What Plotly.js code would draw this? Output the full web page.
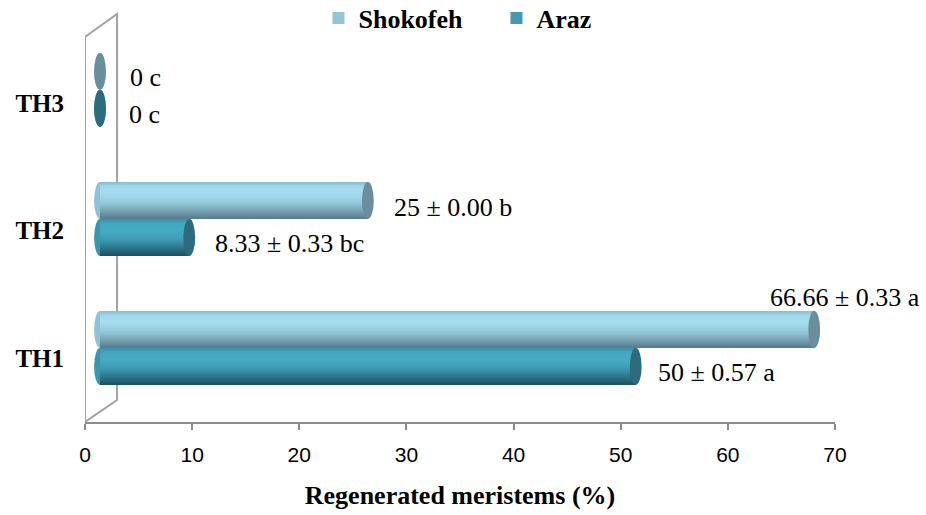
<!DOCTYPE html>
<html>
<head>
<meta charset="utf-8">
<script src="https://cdn.plot.ly/plotly-3.0.1.min.js"></script>
<style>html,body{margin:0;padding:0;background:#fff;}#chart{width:926px;height:515px;}</style>
</head>
<body>
<div id="chart"></div>
<script>
// ---- data ----
const categories = ['TH1', 'TH2', 'TH3'];
const seriesNames = ['Shokofeh', 'Araz'];
const shokofeh = [66.66, 25, 0];
const araz = [50, 8.33, 0];
const shokofehLabels = ['66.66 \u00b1 0.33 a', '25 \u00b1 0.00 b', '0 c'];
const arazLabels = ['50 \u00b1 0.57 a', '8.33 \u00b1 0.33 bc', '0 c'];
const xTicks = [0, 10, 20, 30, 40, 50, 60, 70];

// ---- styling ----
const serif = 'Liberation Serif, Times New Roman, serif';
const legendColors = ['#93c5d6', '#4399b0'];
const capColors = ['#6b8e9c', '#2b6b7c'];
const baseColors = ['#8ec2d4', '#3897af'];
const gradStops = [
  [[0, '#86b9cb'], [0.12, '#a3d8ea'], [0.3, '#a6ddf0'], [0.55, '#95cadd'], [0.8, '#769fae'], [1, '#55798a']],
  [[0, '#3a90a6'], [0.12, '#45a6bf'], [0.3, '#47abc5'], [0.55, '#3d9bb3'], [0.8, '#2b7387'], [1, '#1b5060']]
];
// label offsets in pixels [xshift, yshift]
const labelShift = [
  [[-46, 32], [24, -7], [28, -6]],
  [[20, -6], [24, -6], [27, -6]]
];
const BW = 0.2868;      // bar thickness in category units
const N = 24;           // shading stripes
const CAPW = 0.55;      // half-width of end ellipse in x units

function hex2rgb(h){return [1,3,5].map(i=>parseInt(h.substr(i,2),16));}
function grad(stops, t){
  for (let k=0;k<stops.length-1;k++){
    const [t0,c0]=stops[k],[t1,c1]=stops[k+1];
    if (t<=t1){
      const f=(t-t0)/(t1-t0), a=hex2rgb(c0), b=hex2rgb(c1);
      return 'rgb('+a.map((v,i)=>Math.round(v+(b[i]-v)*f)).join(',')+')';
    }
  }
  return stops[stops.length-1][1];
}

const allValues = [shokofeh, araz];
const allLabels = [shokofehLabels, arazLabels];
const idx = categories.map((c,i)=>i);

const traces = [];
// legend entries
seriesNames.forEach((name, s) => {
  traces.push({type:'bar', orientation:'h', name:name, x:[null], y:[null],
    marker:{color:legendColors[s]}, xaxis:'x', yaxis:'y', hoverinfo:'skip'});
});
// shaded cylinders: each stripe covers from its top edge down to the bar bottom,
// drawn top-first so later stripes paint over the lower part (no seams)
allValues.forEach((vals, s) => {
  const top = s===0 ? BW : 0;
  const bottom = top - BW;
  for (let i=0;i<N;i++){
    const t=(i+0.5)/N;
    const stripeTop = top - i*BW/N;
    traces.push({type:'bar', orientation:'h', x:vals, y:idx, xaxis:'x2', yaxis:'y2',
      width:stripeTop - bottom, offset: bottom,
      marker:{color:grad(gradStops[s], t), line:{width:0}},
      showlegend:false, hoverinfo:'skip'});
  }
});

const shapes = [];
// side wall
shapes.push({type:'path', xref:'x', yref:'paper', layer:'below',
  path:'M 0,0.9436 L 2.99,1 L 2.99,0.0539 L 0,0 Z',
  line:{color:'#a3a3a3', width:2}, fillcolor:'rgba(255,255,255,0)'});
const annotations = [];
allValues.forEach((vals, s) => {
  vals.forEach((v, i) => {
    const yc = s===0 ? i + BW/2 : i - BW/2;
    // rounded base
    shapes.push({type:'circle', xref:'x2', yref:'y2', layer:'below',
      x0:-CAPW, x1:CAPW, y0:yc-BW/2, y1:yc+BW/2,
      fillcolor:baseColors[s], line:{width:0}});
    // end cap
    shapes.push({type:'circle', xref:'x2', yref:'y2', layer:'above',
      x0:v-CAPW, x1:v+CAPW, y0:yc-BW/2, y1:yc+BW/2,
      fillcolor:capColors[s], line:{width:0}});
    annotations.push({xref:'x2', yref:'y2', x:v, y:yc, text:allLabels[s][i],
      showarrow:false, xanchor:'left', yanchor:'middle',
      xshift:labelShift[s][i][0], yshift:labelShift[s][i][1],
      font:{family:serif, size:26, color:'#000'}});
  });
});

const layout = {
  width:926, height:515,
  margin:{l:85, r:91, t:14, b:93, pad:0, autoexpand:false},
  paper_bgcolor:'#fff', plot_bgcolor:'rgba(0,0,0,0)',
  barmode:'overlay',
  showlegend:true,
  legend:{orientation:'h', xref:'paper', yref:'paper', x:0.3113, xanchor:'left', y:0.990, yanchor:'middle',
    font:{family:serif, size:26, color:'#000', weight:700}, traceorder:'normal',
    entrywidth:133, entrywidthmode:'pixels', bgcolor:'rgba(0,0,0,0)'},
  xaxis:{range:[0,70], tickvals:xTicks, showline:true, linecolor:'#8c8c8c', linewidth:2,
    ticks:'outside', ticklen:6, tickwidth:2, tickcolor:'#8c8c8c', showgrid:false, zeroline:false,
    ticklabelstandoff:7,
    tickfont:{family:'Liberation Sans, Arial, sans-serif', size:21, color:'#000'},
    title:{text:'Regenerated meristems (%)', standoff:21,
      font:{family:serif, size:26, color:'#000', weight:700}}},
  xaxis2:{overlaying:'x', range:[-1.40, 68.60], visible:false},
  yaxis:{range:[-0.502, 2.698], tickvals:idx, ticktext:categories, showline:false, showgrid:false,
    zeroline:false, ticks:'', ticklabelstandoff:20,
    tickfont:{family:serif, size:25, color:'#000', weight:700}},
  yaxis2:{overlaying:'y', range:[-0.5736, 2.5891], visible:false},
  shapes:shapes, annotations:annotations
};
Plotly.newPlot('chart', traces, layout, {displayModeBar:false, staticPlot:true});
</script>
</body>
</html>
